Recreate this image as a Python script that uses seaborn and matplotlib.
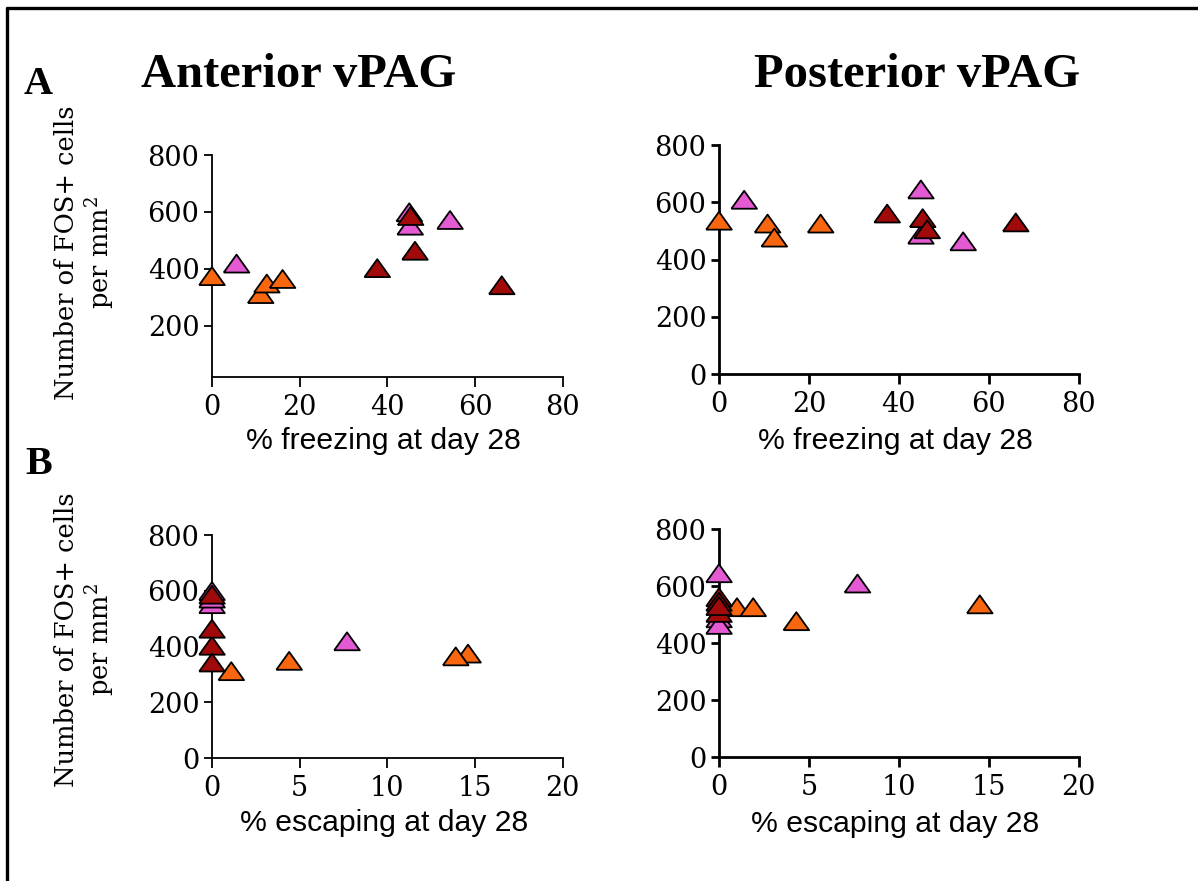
"""
FOS+ cell density in anterior / posterior vPAG vs. freezing and escaping at day 28.

Produces:
  out.png
"""

import matplotlib.pyplot as plt
import numpy as np
import pandas as pd
import seaborn as sns
from matplotlib.lines import Line2D

sns.set_style("ticks")
plt.rcParams["font.family"] = ["DejaVu Serif"]
plt.rcParams["mathtext.fontset"] = "dejavuserif"
plt.rcParams["text.color"] = "black"
plt.rcParams["axes.labelcolor"] = "black"

# ---------------------------------------------------------------------------
# Data
# ---------------------------------------------------------------------------

GROUPS = ["group 1"] * 4 + ["group 2"] * 4 + ["group 3"] * 4

ant_freezing = [0, 11.1, 12.5, 16.1, 5.6, 45.0, 45.2, 54.3, 37.7, 45.3, 46.3, 66.1]
ant_escaping = [14.6, 1.1, 4.4, 13.9, 7.7, 0, 0, 0, 0, 0, 0, 0]
ant_fos = [366, 303, 340, 356, 410, 590, 543, 563, 394, 577, 455, 334]

post_freezing = [0, 10.8, 12.3, 22.6, 5.6, 44.9, 44.9, 54.3, 37.4, 45.3, 46.3, 66.0]
post_escaping = [14.5, 1.0, 4.3, 1.9, 7.7, 0, 0, 0, 0, 0, 0, 0]
post_fos = [527, 517, 468, 517, 600, 636, 478, 455, 552, 536, 497, 521]

PALETTE = {"group 1": "#F8660F", "group 2": "#E35AD3", "group 3": "#A00A0A"}

FREEZE_TICKS = [0, 20, 40, 60, 80]
ESCAPE_TICKS = [0, 5, 10, 15, 20]

TRIANGLE = [(-1, -0.5), (1, -0.5), (0, 0.9), (-1, -0.5)]

ant = pd.DataFrame({"group": GROUPS, "freezing": ant_freezing,
                    "escaping": ant_escaping, "fos": ant_fos})
post = pd.DataFrame({"group": GROUPS, "freezing": post_freezing,
                     "escaping": post_escaping, "fos": post_fos})


def draw_panel(ax, df, xcol, xticks, yticks, ylim, spine_w):
    sns.scatterplot(data=df, x=xcol, y="fos", hue="group", palette=PALETTE,
                    marker=TRIANGLE, s=340, edgecolor="black", linewidth=1.3,
                    legend=False, clip_on=False, zorder=3, ax=ax)
    ax.set_xlim(xticks[0], xticks[-1])
    ax.set_ylim(*ylim)
    ax.set_xticks(xticks)
    ax.set_yticks(yticks)
    sns.despine(ax=ax)
    for side in ("left", "bottom"):
        ax.spines[side].set_linewidth(spine_w)
        ax.spines[side].set_color("black")
    ax.tick_params(axis="x", length=7, width=spine_w, pad=5, labelsize=19.5, colors="black")
    ax.tick_params(axis="y", length=6, width=spine_w, pad=3, labelsize=19.5, colors="black")
    ax.set_ylabel("")
    ax.set_xlabel("")


W, H = 1198, 881
fig = plt.figure(figsize=(W / 100, H / 100), dpi=100)


def px_axes(left, right, top, bottom):
    return fig.add_axes([left / W, 1 - bottom / H, (right - left) / W, (bottom - top) / H])


ax_tl = px_axes(212, 562.7, 155, 377)
ax_tr = px_axes(719, 1078.7, 145, 374.3)
ax_bl = px_axes(212, 562.7, 535, 758.3)
ax_br = px_axes(719, 1078.7, 529, 757.3)

draw_panel(ax_tl, ant, "freezing", FREEZE_TICKS, [200, 400, 600, 800], (21, 800), 1.3)
draw_panel(ax_tr, post, "freezing", FREEZE_TICKS, [0, 200, 400, 600, 800], (0, 800), 2.0)
draw_panel(ax_bl, ant, "escaping", ESCAPE_TICKS, [0, 200, 400, 600, 800], (0, 800), 1.3)
draw_panel(ax_br, post, "escaping", ESCAPE_TICKS, [0, 200, 400, 600, 800], (0, 800), 2.0)

sans = ["Liberation Sans", "DejaVu Sans"]
for ax, label, y_off in [(ax_tl, "% freezing at day 28", 50),
                         (ax_tr, "% freezing at day 28", 53),
                         (ax_bl, "% escaping at day 28", 51),
                         (ax_br, "% escaping at day 28", 53)]:
    ax.set_xlabel(label, family=sans, fontsize=21.7)
    h = ax.get_position().height * H
    ax.xaxis.set_label_coords(0.49, -y_off / h)

ylab = "Number of FOS+ cells\nper mm$^2$"
for ax, yfrac in [(ax_tl, 0.56), (ax_bl, 0.53)]:
    ax.set_ylabel(ylab, fontsize=18.5, linespacing=1.15)
    ax.yaxis.set_label_coords(-0.272, yfrac)

bold_serif = ["Liberation Serif", "DejaVu Serif"]
fig.text(299 / W, 1 - 75 / H, "Anterior vPAG", family=bold_serif, weight="bold",
         fontsize=35, ha="center", va="center")
fig.text(917 / W, 1 - 75 / H, "Posterior vPAG", family=bold_serif, weight="bold",
         fontsize=35, ha="center", va="center")
fig.text(38 / W, 1 - 84 / H, "A", family=bold_serif, weight="bold",
         fontsize=29, ha="center", va="center")
fig.text(39 / W, 1 - 465 / H, "B", family=bold_serif, weight="bold",
         fontsize=29, ha="center", va="center")

# frame: only top and left edges show in the original crop
fig.add_artist(Line2D([7 / W, 1], [1 - 8 / H, 1 - 8 / H], color="black", linewidth=2.4))
fig.add_artist(Line2D([7 / W, 7 / W], [0, 1 - 8 / H], color="black", linewidth=2.4))

fig.savefig("out.png", dpi=100)
plt.close(fig)
